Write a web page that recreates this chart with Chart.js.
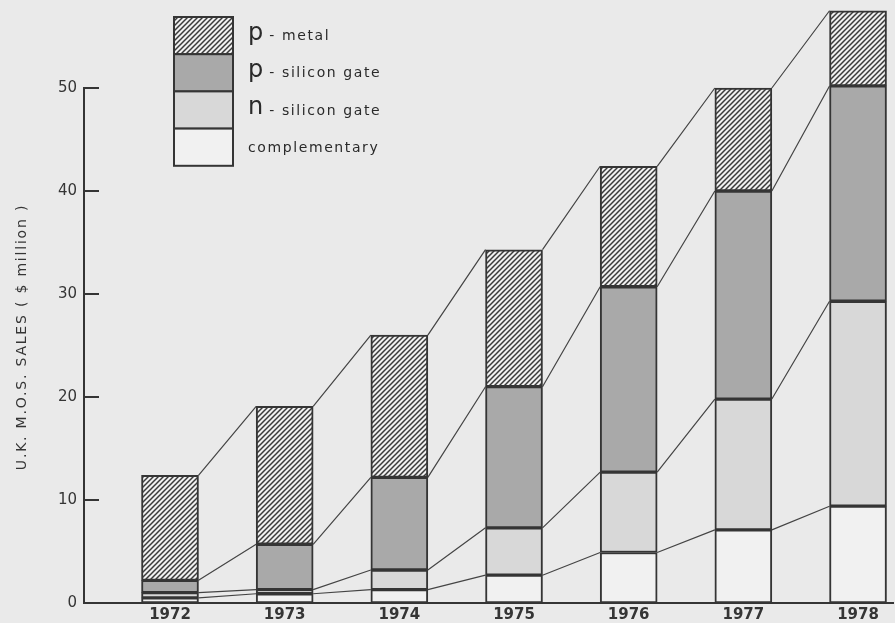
<!DOCTYPE html>
<html>
<head>
<meta charset="utf-8">
<script src="https://cdn.jsdelivr.net/npm/chart.js@4/dist/chart.umd.min.js"></script>
<style>
  html, body { margin: 0; padding: 0; background: #eaeaea; }
  #wrap { width: 895px; height: 623px; }
</style>
</head>
<body>
<div id="wrap"><canvas id="mos"></canvas></div>
<script>
// U.K. M.O.S. sales by technology, 1972-1978 ($ million), stacked bottom -> top
const years = [1972, 1973, 1974, 1975, 1976, 1977, 1978];
const complementary = [0.5, 0.9, 1.3, 2.7, 4.9, 7.1, 9.4];
const nSiliconGate  = [0.5, 0.4, 1.9, 4.6, 7.8, 12.7, 19.9];
const pSiliconGate  = [1.2, 4.4, 9.0, 13.7, 18.0, 20.2, 20.9];
const pMetal        = [10.2, 13.4, 13.8, 13.3, 11.7, 10.0, 7.3];
const yTicks = [0, 10, 20, 30, 40, 50];

const INK = '#353535';

// diagonal hatch used for p-metal
function hatch() {
  const s = 5;
  const c = document.createElement('canvas');
  c.width = c.height = s;
  const g = c.getContext('2d');
  g.fillStyle = '#f0f0f0';
  g.fillRect(0, 0, s, s);
  g.strokeStyle = '#3a3a3a';
  g.lineWidth = 1.5;
  g.beginPath();
  g.moveTo(0, s); g.lineTo(s, 0);
  g.moveTo(-1, 1); g.lineTo(1, -1);
  g.moveTo(s - 1, s + 1); g.lineTo(s + 1, s - 1);
  g.stroke();
  return g.createPattern(c, 'repeat');
}

const series = [
  { label: 'complementary',   big: '',  rest: 'complementary',   values: complementary, fill: '#f1f1f1' },
  { label: 'n - silicon gate', big: 'n', rest: ' - silicon gate', values: nSiliconGate,  fill: '#d8d8d8' },
  { label: 'p - silicon gate', big: 'p', rest: ' - silicon gate', values: pSiliconGate,  fill: '#a9a9a9' },
  { label: 'p - metal',        big: 'p', rest: ' - metal',        values: pMetal,        fill: hatch() }
];

// lines joining each boundary from the right edge of one bar to the left edge of the next
const connectors = {
  id: 'connectors',
  afterDatasetsDraw(chart) {
    const ctx = chart.ctx;
    ctx.save();
    ctx.strokeStyle = '#444';
    ctx.lineWidth = 1.2;
    chart.data.datasets.forEach((ds, d) => {
      const bars = chart.getDatasetMeta(d).data;
      ctx.beginPath();
      for (let i = 0; i < bars.length - 1; i++) {
        const a = bars[i], b = bars[i + 1];
        ctx.moveTo(a.x + a.width / 2, a.y);
        ctx.lineTo(b.x - b.width / 2, b.y);
      }
      ctx.stroke();
    });
    ctx.restore();
  }
};

// inward tick marks, rotated axis title and the stacked legend box
const decor = {
  id: 'decor',
  afterDraw(chart) {
    const ctx = chart.ctx;
    const y = chart.scales.y;
    const left = chart.chartArea.left;
    ctx.save();
    ctx.strokeStyle = INK;
    ctx.lineWidth = 2;
    ctx.beginPath();
    yTicks.forEach(v => {
      if (v === 0) return;
      const py = y.getPixelForValue(v);
      ctx.moveTo(left, py);
      ctx.lineTo(left + 15, py);
    });
    ctx.stroke();

    // y title
    ctx.fillStyle = INK;
    ctx.font = '14px "DejaVu Sans"';
    ctx.letterSpacing = '1.8px';
    ctx.textAlign = 'center';
    ctx.textBaseline = 'middle';
    ctx.translate(22, 337);
    ctx.rotate(-Math.PI / 2);
    ctx.fillText('U.K. M.O.S. SALES ( $ million )', 0, 0);
    ctx.restore();

    // legend: one tall box split in four, top item first
    ctx.save();
    const bx = 174, bw = 59, top = 17, bh = 37.2;
    const items = series.slice().reverse();
    items.forEach((s, i) => {
      const by = top + i * bh;
      ctx.fillStyle = s.fill;
      ctx.fillRect(bx, by, bw, bh);
      ctx.strokeStyle = INK;
      ctx.lineWidth = 2;
      ctx.strokeRect(bx, by, bw, bh);

      const ty = by + bh / 2 + 1;
      let tx = 248;
      ctx.fillStyle = '#2a2a2a';
      ctx.textBaseline = 'middle';
      if (s.big) {
        ctx.font = '24px "DejaVu Sans"';
        ctx.letterSpacing = '0px';
        ctx.fillText(s.big, tx, ty - 3);
        tx += ctx.measureText(s.big).width;
      }
      ctx.font = '14px "DejaVu Sans"';
      ctx.letterSpacing = '1.6px';
      ctx.fillText(s.rest, tx, ty);
    });
    ctx.restore();
  }
};

new Chart(document.getElementById('mos'), {
  type: 'bar',
  data: {
    datasets: series.map(s => ({
      label: s.label,
      data: years.map((yr, i) => ({ x: yr, y: s.values[i] })),
      backgroundColor: s.fill,
      borderColor: INK,
      borderWidth: 2,
      borderSkipped: false,
      barThickness: 57,
      clip: false
    }))
  },
  options: {
    responsive: true,
    maintainAspectRatio: false,
    animation: false,
    layout: { padding: { top: 88, right: 2, left: 0, bottom: 0 } },
    plugins: { legend: { display: false }, tooltip: { enabled: false } },
    scales: {
      x: {
        type: 'linear',
        stacked: true,
        offset: false,
        min: 1971.25,
        max: 1978.305,
        afterBuildTicks: s => { s.ticks = years.map(v => ({ value: v })); },
        afterFit: s => { s.height = 20; },
        grid: { display: false, drawTicks: false },
        border: { display: true, color: INK, width: 2 },
        ticks: {
          padding: 3,
          color: INK,
          font: { family: 'DejaVu Sans', size: 15, weight: 'bold' },
          callback: v => String(v)
        }
      },
      y: {
        stacked: true,
        min: 0,
        max: 50,
        afterBuildTicks: s => { s.ticks = yTicks.map(v => ({ value: v })); },
        afterFit: s => { s.width = 84; },
        grid: { display: false, drawTicks: false },
        border: { display: true, color: INK, width: 2 },
        ticks: {
          padding: 7,
          color: INK,
          font: { family: 'DejaVu Sans', size: 15 }
        }
      }
    }
  },
  plugins: [connectors, decor]
});
</script>
</body>
</html>
